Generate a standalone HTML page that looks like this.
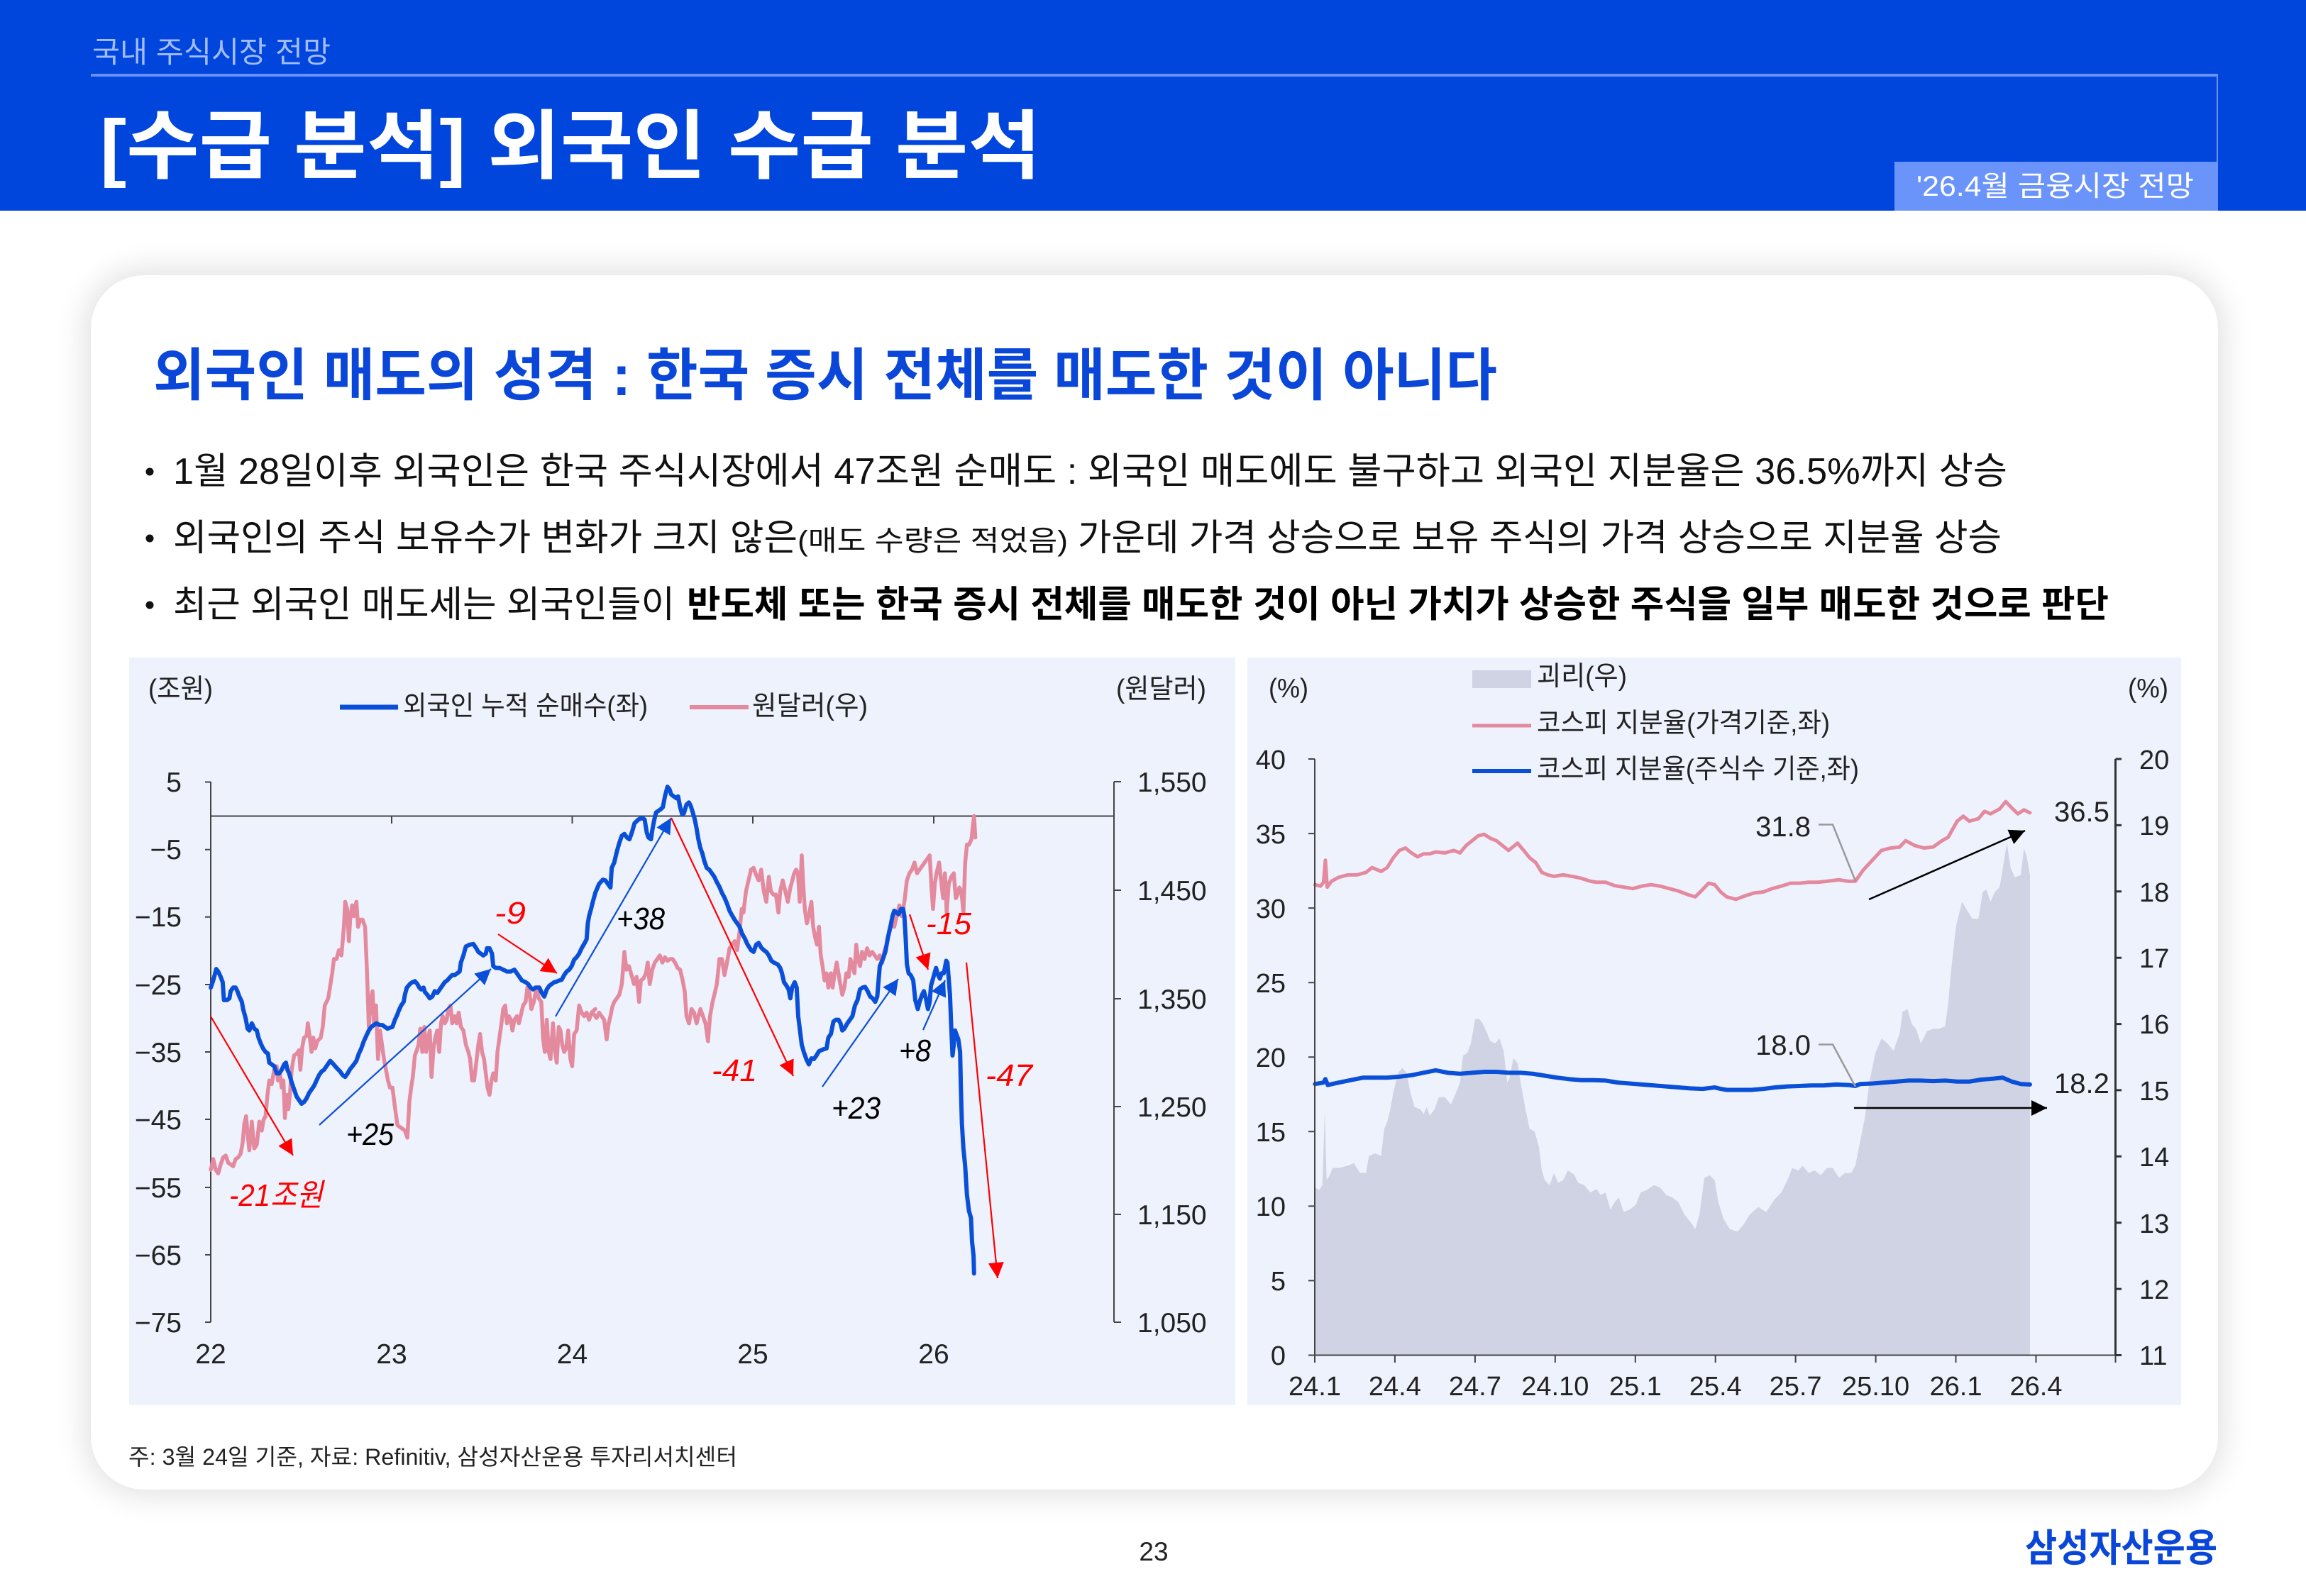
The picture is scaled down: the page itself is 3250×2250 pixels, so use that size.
<!DOCTYPE html>
<html><head><meta charset="utf-8">
<style>
html,body{margin:0;padding:0;width:3250px;height:2250px;overflow:hidden;background:#fff;}
.card{position:absolute;left:128px;top:388px;width:2998px;height:1712px;background:#fff;border-radius:75px;box-shadow:0 0 42px 8px rgba(0,0,0,0.12);}
svg{position:absolute;left:0;top:0;}
text{font-family:"Liberation Sans","Noto Sans CJK KR",sans-serif;}
</style></head><body>
<div class="card"></div>
<svg width="3250" height="2250" viewBox="0 0 3250 2250" xmlns="http://www.w3.org/2000/svg">
<defs>
<marker id="ar" viewBox="0 0 10 10" refX="10" refY="5" markerUnits="userSpaceOnUse" markerWidth="28" markerHeight="22" orient="auto"><path d="M0,0 L10,5 L0,10 z" fill="#ff0000"/></marker>
<marker id="ab" viewBox="0 0 10 10" refX="10" refY="5" markerUnits="userSpaceOnUse" markerWidth="28" markerHeight="22" orient="auto"><path d="M0,0 L10,5 L0,10 z" fill="#0a4fd8"/></marker>
<marker id="ak" viewBox="0 0 10 10" refX="10" refY="5" markerUnits="userSpaceOnUse" markerWidth="28" markerHeight="22" orient="auto"><path d="M0,0 L10,5 L0,10 z" fill="#000"/></marker>
</defs>

<!-- Header -->
<rect x="0" y="0" width="3250" height="297" fill="#0046dc"/>
<text x="130" y="88" font-size="42" fill="#a3bcff" textLength="336" lengthAdjust="spacingAndGlyphs">국내 주식시장 전망</text>
<rect x="128" y="104" width="2998" height="4" fill="#6a90fa"/>
<rect x="3124" y="108" width="2" height="120" fill="#6a90fa"/>
<text x="141" y="243" font-size="106" font-weight="700" fill="#fff" textLength="1326" lengthAdjust="spacingAndGlyphs">[수급 분석] 외국인 수급 분석</text>
<rect x="2670" y="228" width="456" height="69" fill="#6b94fb"/>
<text x="2701" y="276" font-size="40" fill="#fff" textLength="391" lengthAdjust="spacingAndGlyphs">'26.4월 금융시장 전망</text>

<!-- Card title and bullets -->
<text x="216" y="557" font-size="80" font-weight="700" fill="#0a47d8" textLength="1894" lengthAdjust="spacingAndGlyphs">외국인 매도의 성격 : 한국 증시 전체를 매도한 것이 아니다</text>
<circle cx="211" cy="665" r="5.5" fill="#111"/>
<circle cx="211" cy="759" r="5.5" fill="#111"/>
<circle cx="211" cy="853" r="5.5" fill="#111"/>
<text x="244" y="682" font-size="52" fill="#111" textLength="2585" lengthAdjust="spacingAndGlyphs">1월 28일이후 외국인은 한국 주식시장에서 47조원 순매도 : 외국인 매도에도 불구하고 외국인 지분율은 36.5%까지 상승</text>
<text x="244" y="776" font-size="52" fill="#111" textLength="880" lengthAdjust="spacingAndGlyphs">외국인의 주식 보유수가 변화가 크지 않은</text>
<text x="1124" y="776" font-size="40" fill="#111" textLength="381" lengthAdjust="spacingAndGlyphs">(매도 수량은 적었음)</text>
<text x="1519" y="776" font-size="52" fill="#111" textLength="1302" lengthAdjust="spacingAndGlyphs">가운데 가격 상승으로 보유 주식의 가격 상승으로 지분율 상승</text>
<text x="244" y="870" font-size="52" fill="#111" textLength="707" lengthAdjust="spacingAndGlyphs">최근 외국인 매도세는 외국인들이</text>
<text x="968" y="870" font-size="52" font-weight="700" fill="#000" textLength="2004" lengthAdjust="spacingAndGlyphs">반도체 또는 한국 증시 전체를 매도한 것이 아닌 가치가 상승한 주식을 일부 매도한 것으로 판단</text>

<!-- Chart panels -->
<rect x="182" y="927" width="1559" height="1054" fill="#eef2fd"/>
<rect x="1758" y="927" width="1316" height="1054" fill="#eef2fd"/>

<!-- ===== LEFT CHART ===== -->
<text x="209" y="984" font-size="38" fill="#222" textLength="91" lengthAdjust="spacingAndGlyphs">(조원)</text>
<text x="1573" y="984" font-size="38" fill="#222" textLength="127" lengthAdjust="spacingAndGlyphs">(원달러)</text>
<line x1="479" y1="997" x2="561" y2="997" stroke="#0a4fd8" stroke-width="7"/>
<text x="568" y="1008" font-size="38" fill="#222" textLength="345" lengthAdjust="spacingAndGlyphs">외국인 누적 순매수(좌)</text>
<line x1="972" y1="997" x2="1055" y2="997" stroke="#e48a9e" stroke-width="6"/>
<text x="1060" y="1008" font-size="38" fill="#222" textLength="163" lengthAdjust="spacingAndGlyphs">원달러(우)</text>

<g stroke="#444" stroke-width="2" fill="none">
<line x1="297" y1="1102" x2="297" y2="1864"/>
<line x1="1570" y1="1102" x2="1570" y2="1864"/>
<line x1="297" y1="1150.5" x2="1570" y2="1150.5"/>
<path d="M289,1102.5H297M289,1197.7H297M289,1292.8H297M289,1388H297M289,1483H297M289,1578H297M289,1674H297M289,1769H297M289,1864H297"/>
<path d="M1570,1102H1580M1570,1255H1580M1570,1408H1580M1570,1560H1580M1570,1712H1580M1570,1864H1580"/>
<path d="M552,1150V1161M806.5,1150V1161M1061,1150V1161M1316,1150V1161"/>
</g>
<g font-size="39" fill="#222" text-anchor="end">
<text x="256" y="1116">5</text>
<text x="256" y="1211">−5</text>
<text x="256" y="1306">−15</text>
<text x="256" y="1402">−25</text>
<text x="256" y="1497">−35</text>
<text x="256" y="1592">−45</text>
<text x="256" y="1688">−55</text>
<text x="256" y="1783">−65</text>
<text x="256" y="1878">−75</text>
</g>
<g font-size="39" fill="#222">
<text x="1603" y="1116">1,550</text>
<text x="1603" y="1269">1,450</text>
<text x="1603" y="1422">1,350</text>
<text x="1603" y="1574">1,250</text>
<text x="1603" y="1726">1,150</text>
<text x="1603" y="1878">1,050</text>
</g>
<g font-size="39" fill="#222" text-anchor="middle">
<text x="297" y="1922">22</text>
<text x="552" y="1922">23</text>
<text x="806.5" y="1922">24</text>
<text x="1061" y="1922">25</text>
<text x="1316" y="1922">26</text>
</g>

<!-- pink KRW/USD -->
<g fill="none" stroke="#e48a9e" stroke-width="5.5" stroke-linejoin="round" stroke-linecap="round">
<path vector-effect="non-scaling-stroke" transform="translate(290,1090) scale(0.3508,0.5038)" d="M20,1110 L30,1080 L40,1110 L50,1120 L60,1095 L70,1075 L80,1070 L90,1090 L100,1095 L110,1100 L120,1080 L130,1075 L140,1065 L148,1035 L155,980 L162,960 L168,1010 L175,1055 L185,975 L195,1050 L205,1040 L215,975 L225,1000 L232,970 L240,960 L248,900 L255,860 L265,870 L275,830 L285,820 L290,860 L298,840 L305,880 L312,860 L318,965 L325,900 L332,940 L338,900 L345,830 L355,790 L365,785 L375,775 L380,830 L388,765 L395,740 L405,735 L410,700 L418,740 L425,780 L432,740 L440,770 L448,750 L455,745 L462,740 L470,710 L478,650 L485,640 L492,630 L500,595 L508,560 L515,520 L525,520 L535,495 L545,510 L555,430 L560,360 L568,380 L575,470 L580,410 L588,370 L595,400 L605,360 L612,430 L620,410 L630,410 L640,430 L648,560 L655,710 L662,640 L670,610 L676,700 L684,650 L692,800 L700,720 L708,760 L716,800 L724,830 L732,860 L740,880 L750,880 L760,935 L770,985 L780,990 L790,995 L800,1000 L810,1020 L818,920 L825,880 L832,850 L840,790 L848,775 L855,760 L862,715 L870,780 L878,710 L885,780 L893,745 L900,720 L907,850 L915,770 L922,740 L930,720 L938,780 L945,700 L952,680 L960,700 L968,690 L975,660 L983,650 L990,700 L1000,680 L1008,700 L1016,670 L1025,710 L1035,720 L1045,760 L1055,780 L1062,800 L1070,860 L1078,860 L1085,820 L1095,760 L1102,730 L1110,780 L1118,800 L1125,840 L1132,880 L1140,900 L1148,860 L1155,840 L1165,860 L1172,780 L1180,740 L1188,700 L1195,660 L1203,650 L1210,700 L1218,680 L1225,690 L1232,720 L1240,690 L1250,680 L1258,700 L1265,680 L1275,650 L1285,640 L1292,600 L1300,610 L1308,660 L1318,640 L1328,605 L1338,630 L1348,640 L1355,740 L1362,780 L1370,690 L1378,780 L1385,800 L1395,700 L1402,770 L1410,810 L1418,710 L1425,720 L1432,760 L1440,780 L1448,770 L1456,720 L1465,800 L1472,820 L1480,730 L1490,720 L1500,650 L1510,670 L1520,680 L1530,670 L1540,690 L1550,670 L1565,660"/>
<path vector-effect="non-scaling-stroke" transform="translate(830,1090) scale(0.3571,0.5038)" d="M20,675 L30,685 L40,670 L50,680 L60,690 L70,745 L78,700 L85,680 L92,655 L100,640 L110,630 L120,620 L130,590 L140,500 L148,550 L158,540 L168,565 L178,590 L188,570 L198,640 L205,580 L215,575 L225,560 L232,530 L240,590 L250,550 L260,530 L270,520 L280,510 L290,530 L300,515 L310,525 L320,520 L330,520 L340,530 L350,545 L360,550 L370,580 L378,610 L385,680 L395,700 L405,660 L415,670 L425,700 L432,680 L440,660 L450,680 L460,700 L470,750 L478,680 L488,640 L495,620 L505,590 L515,520 L525,520 L535,565 L545,530 L555,490 L565,480 L575,470 L585,495 L595,440 L603,380 L610,390 L620,330 L630,300 L640,270 L650,265 L660,285 L670,300 L680,270 L690,330 L700,360 L710,290 L718,330 L728,340 L738,340 L748,390 L755,330 L765,300 L775,330 L785,360 L795,320 L803,300 L810,280 L818,270 L825,280 L832,360 L840,230 L845,300 L852,380 L860,420 L868,400 L878,360 L885,430 L893,460 L900,480 L908,430 L915,510 L922,540 L930,580 L938,560 L945,600 L955,560 L962,600 L970,560 L978,530 L985,560 L992,590 L1000,620 L1008,600 L1016,560 L1025,570 L1032,520 L1040,540 L1048,560 L1055,480 L1062,520 L1070,540 L1078,500 L1088,520 L1098,490 L1108,510 L1118,500 L1128,510 L1138,520 L1148,510 L1158,530 L1165,500 L1175,480 L1185,440 L1195,410 L1205,430 L1215,400 L1225,370 L1235,400 L1245,360 L1255,300 L1265,280 L1275,270 L1285,250 L1295,280 L1305,270 L1315,260 L1325,250 L1335,240 L1345,230 L1352,320 L1358,380 L1365,310 L1372,280 L1382,250 L1390,300 L1398,350 L1405,280 L1412,390 L1420,310 L1430,290 L1440,280 L1448,350 L1455,340 L1462,320 L1470,330 L1478,390 L1485,250 L1492,200 L1500,200 L1510,185 L1515,150 L1520,120 L1525,180"/>
</g>

<!-- blue cumulative net buy -->
<g fill="none" stroke="#0a4fd8" stroke-width="6" stroke-linejoin="round" stroke-linecap="round">
<path vector-effect="non-scaling-stroke" transform="translate(290,1090) scale(0.3508,0.5038)" d="M20,600 L30,580 L42,548 L50,555 L60,570 L68,585 L73,635 L85,635 L95,630 L100,610 L110,600 L120,600 L127,610 L135,625 L145,640 L150,660 L160,685 L168,715 L175,720 L185,700 L195,715 L205,720 L212,740 L220,755 L230,770 L240,780 L250,785 L255,810 L265,815 L275,820 L285,840 L295,840 L305,830 L315,815 L322,810 L328,830 L335,840 L345,865 L355,885 L365,905 L375,915 L385,925 L395,920 L405,910 L415,895 L425,885 L435,875 L445,860 L455,845 L465,835 L475,830 L490,815 L500,805 L510,812 L520,820 L530,828 L540,835 L550,845 L560,850 L570,840 L580,828 L595,815 L605,805 L615,785 L625,770 L635,750 L645,735 L655,720 L665,710 L675,705 L685,700 L700,705 L710,705 L720,710 L730,715 L740,712 L750,710 L755,700 L760,690 L770,675 L775,665 L785,650 L795,640 L800,620 L808,600 L820,590 L830,585 L840,582 L850,590 L858,600 L865,605 L875,600 L880,612 L890,620 L900,630 L910,625 L920,610 L930,615 L940,605 L950,595 L960,585 L970,580 L980,572 L990,565 L1000,565 L1010,560 L1020,555 L1025,530 L1035,510 L1045,485 L1060,480 L1075,478 L1085,488 L1095,500 L1105,505 L1115,510 L1125,505 L1130,490 L1140,490 L1150,505 L1155,540 L1165,545 L1180,545 L1195,550 L1210,555 L1225,555 L1240,550 L1250,560 L1260,570 L1270,580 L1285,585 L1295,590 L1305,600 L1315,605 L1325,600 L1340,600 L1350,615 L1360,625 L1370,605 L1380,595 L1390,590 L1400,585 L1410,583 L1420,580 L1430,578 L1440,565 L1450,555 L1460,550 L1470,540 L1480,522 L1490,515 L1500,505 L1510,490 L1520,478 L1530,465 L1535,420 L1540,400 L1548,380 L1555,360 L1565,335"/>
<path vector-effect="non-scaling-stroke" transform="translate(830,1090) scale(0.3571,0.5038)" d="M25,335 L40,310 L55,298 L65,300 L75,310 L85,320 L90,265 L100,250 L110,220 L120,195 L130,175 L140,170 L150,180 L160,185 L170,165 L180,140 L195,130 L210,125 L220,130 L228,165 L235,180 L245,185 L250,160 L258,130 L265,110 L275,105 L285,100 L292,95 L300,65 L310,38 L318,45 L325,60 L335,65 L345,70 L352,65 L360,95 L368,115 L375,112 L380,100 L385,88 L395,82 L402,92 L410,110 L418,130 L425,155 L432,185 L440,210 L448,225 L455,245 L465,265 L475,270 L485,280 L495,290 L505,305 L515,318 L525,335 L535,348 L545,365 L555,385 L565,398 L575,410 L585,420 L595,430 L605,450 L615,462 L625,478 L640,495 L650,500 L660,480 L670,475 L680,488 L690,495 L700,500 L710,510 L720,525 L730,530 L745,535 L755,545 L762,560 L770,585 L780,595 L788,605 L795,630 L802,600 L812,585 L820,600 L826,680 L833,720 L840,760 L848,780 L858,800 L868,815 L878,798 L888,800 L898,790 L908,778 L918,775 L928,772 L938,770 L945,740 L955,730 L965,695 L975,690 L985,690 L993,700 L1000,720 L1008,715 L1020,700 L1030,690 L1040,680 L1050,650 L1060,635 L1070,605 L1080,600 L1090,598 L1100,610 L1110,625 L1120,630 L1130,640 L1138,625 L1142,590 L1148,540 L1160,520 L1170,500 L1180,460 L1190,430 L1198,400 L1205,385 L1215,390 L1222,395 L1232,380 L1240,380 L1245,400 L1250,460 L1255,535 L1262,560 L1270,565 L1280,580 L1288,635 L1298,660 L1305,640 L1315,620 L1322,610 L1330,630 L1338,660 L1345,640 L1350,595 L1360,570 L1370,545 L1378,565 L1385,575 L1392,560 L1400,560 L1405,545 L1410,525 L1415,530 L1420,575 L1425,620 L1430,710 L1435,790 L1440,760 L1445,720 L1450,730 L1458,745 L1465,780 L1468,880 L1472,980 L1478,1050 L1485,1100 L1492,1180 L1500,1225 L1508,1245 L1512,1310 L1518,1350 L1520,1400"/>
</g>

<!-- left arrows -->
<g stroke-width="2.2" fill="none">
<line x1="297" y1="1433" x2="413" y2="1629" stroke="#ff0000" marker-end="url(#ar)"/>
<line x1="450" y1="1586" x2="692" y2="1366" stroke="#0a4fd8" marker-end="url(#ab)"/>
<line x1="702" y1="1317" x2="785" y2="1372" stroke="#ff0000" marker-end="url(#ar)"/>
<line x1="783" y1="1433" x2="946" y2="1153" stroke="#0a4fd8" marker-end="url(#ab)"/>
<line x1="946" y1="1153" x2="1118" y2="1517" stroke="#ff0000" marker-end="url(#ar)"/>
<line x1="1159" y1="1532" x2="1266" y2="1380" stroke="#0a4fd8" marker-end="url(#ab)"/>
<line x1="1282" y1="1289" x2="1308" y2="1367" stroke="#ff0000" marker-end="url(#ar)"/>
<line x1="1301" y1="1452" x2="1332" y2="1382" stroke="#0a4fd8" marker-end="url(#ab)"/>
<line x1="1362" y1="1357" x2="1406" y2="1802" stroke="#ff0000" marker-end="url(#ar)"/>
</g>
<g font-size="44" font-style="italic">
<text x="323" y="1700" fill="#ff0000" textLength="132" lengthAdjust="spacingAndGlyphs">-21조원</text>
<text x="488" y="1614" fill="#000" textLength="67" lengthAdjust="spacingAndGlyphs">+25</text>
<text x="697" y="1302" fill="#ff0000" textLength="44" lengthAdjust="spacingAndGlyphs">-9</text>
<text x="869" y="1310" fill="#000" textLength="68" lengthAdjust="spacingAndGlyphs">+38</text>
<text x="1003" y="1524" fill="#ff0000" textLength="64" lengthAdjust="spacingAndGlyphs">-41</text>
<text x="1172" y="1577" fill="#000" textLength="69" lengthAdjust="spacingAndGlyphs">+23</text>
<text x="1305" y="1317" fill="#ff0000" textLength="64" lengthAdjust="spacingAndGlyphs">-15</text>
<text x="1267" y="1496" fill="#000" textLength="45" lengthAdjust="spacingAndGlyphs">+8</text>
<text x="1389" y="1531" fill="#ff0000" textLength="66" lengthAdjust="spacingAndGlyphs">-47</text>
</g>

<!-- ===== RIGHT CHART ===== -->
<text x="1788" y="983" font-size="38" fill="#222" textLength="56" lengthAdjust="spacingAndGlyphs">(%)</text>
<text x="2999" y="983" font-size="38" fill="#222" textLength="57" lengthAdjust="spacingAndGlyphs">(%)</text>
<rect x="2075" y="945" width="83" height="25" fill="#d0d3e3"/>
<text x="2166" y="966" font-size="38" fill="#222" textLength="127" lengthAdjust="spacingAndGlyphs">괴리(우)</text>
<line x1="2075" y1="1023" x2="2158" y2="1023" stroke="#e48a9e" stroke-width="5"/>
<text x="2166" y="1032" font-size="38" fill="#222" textLength="413" lengthAdjust="spacingAndGlyphs">코스피 지분율(가격기준,좌)</text>
<line x1="2075" y1="1087" x2="2158" y2="1087" stroke="#0a4fd8" stroke-width="6"/>
<text x="2166" y="1097" font-size="38" fill="#222" textLength="454" lengthAdjust="spacingAndGlyphs">코스피 지분율(주식수 기준,좌)</text>

<!-- grey area -->
<path transform="translate(1750,920) scale(0.8546,0.6888)" fill="#d0d3e3" d="M121,1438 L121,1095 L128,1100 L133,1090 L137,940 L140,1080 L145,1070 L150,1055 L160,1055 L175,1050 L185,1045 L195,1065 L205,1065 L210,1030 L220,1025 L230,1030 L235,975 L240,960 L245,935 L250,900 L258,860 L265,850 L272,860 L278,900 L285,930 L295,935 L300,945 L305,930 L310,948 L318,935 L325,910 L335,910 L345,925 L352,905 L360,880 L365,825 L372,820 L378,800 L385,750 L392,750 L398,760 L405,780 L410,795 L418,800 L425,790 L432,815 L438,880 L442,870 L448,830 L455,840 L460,880 L468,935 L475,975 L483,980 L490,1010 L495,1060 L500,1080 L508,1090 L515,1065 L522,1085 L530,1080 L538,1060 L548,1068 L555,1085 L565,1090 L575,1105 L585,1098 L592,1110 L600,1105 L608,1140 L615,1125 L622,1115 L630,1145 L640,1140 L650,1130 L658,1105 L668,1100 L680,1090 L690,1095 L700,1110 L710,1115 L720,1125 L730,1150 L740,1165 L748,1180 L755,1150 L763,1075 L772,1070 L780,1080 L786,1125 L795,1160 L805,1180 L818,1185 L828,1170 L838,1150 L852,1135 L865,1145 L878,1120 L890,1105 L900,1080 L908,1055 L918,1060 L925,1050 L935,1065 L945,1060 L955,1070 L965,1055 L975,1055 L985,1075 L995,1065 L1005,1065 L1012,1050 L1020,1000 L1028,950 L1035,880 L1045,820 L1055,790 L1065,800 L1075,815 L1085,780 L1090,735 L1098,730 L1105,760 L1112,770 L1120,800 L1130,775 L1140,770 L1150,770 L1160,765 L1165,720 L1170,650 L1178,560 L1188,510 L1195,525 L1205,545 L1215,545 L1222,490 L1228,485 L1235,510 L1242,490 L1250,480 L1258,420 L1262,390 L1268,440 L1275,460 L1285,455 L1290,400 L1295,420 L1300,455 L1300,1438 Z"/>

<g fill="none" stroke-linejoin="round" stroke-linecap="round">
<path vector-effect="non-scaling-stroke" stroke="#e48a9e" stroke-width="5" transform="translate(1750,920) scale(0.8546,0.6888)" d="M121,475 L130,478 L135,470 L138,425 L141,480 L148,468 L160,460 L175,455 L190,455 L205,450 L215,440 L230,448 L240,440 L250,420 L260,405 L270,400 L280,410 L290,418 L300,412 L310,412 L320,408 L335,410 L350,405 L360,410 L370,395 L380,385 L390,375 L400,372 L410,380 L420,385 L430,395 L440,405 L450,395 L455,390 L465,405 L475,420 L485,430 L495,450 L505,455 L515,458 L530,455 L545,458 L560,462 L575,468 L585,470 L600,470 L615,477 L630,480 L645,483 L660,478 L675,475 L690,478 L705,483 L720,488 L735,495 L748,500 L760,485 L770,472 L780,475 L790,490 L800,500 L815,505 L830,498 L845,492 L860,490 L875,483 L890,478 L905,472 L920,472 L935,470 L950,470 L965,468 L985,465 L1000,468 L1012,468 L1025,445 L1040,425 L1055,405 L1070,400 L1085,398 L1095,385 L1110,395 L1125,400 L1140,398 L1155,385 L1165,378 L1180,345 L1190,335 L1200,345 L1215,340 L1225,325 L1235,330 L1250,320 L1260,305 L1270,318 L1280,330 L1290,322 L1300,328"/>
<path vector-effect="non-scaling-stroke" stroke="#0a4fd8" stroke-width="6" transform="translate(1750,920) scale(0.8546,0.6888)" d="M121,883 L135,880 L138,873 L142,885 L160,880 L180,875 L200,870 L220,870 L240,870 L260,868 L280,865 L300,860 L320,855 L340,860 L360,862 L380,860 L400,858 L420,858 L440,860 L460,860 L480,862 L500,866 L520,870 L540,873 L560,875 L580,875 L600,876 L620,880 L640,882 L660,884 L680,886 L700,888 L720,890 L740,892 L760,893 L780,890 L790,893 L800,895 L820,895 L840,895 L860,893 L880,890 L900,888 L920,887 L940,886 L960,886 L980,884 L1000,885 L1012,887 L1020,883 L1040,882 L1060,880 L1080,878 L1100,876 L1120,876 L1140,877 L1160,876 L1180,878 L1200,878 L1220,874 L1240,872 L1255,870 L1270,878 L1285,883 L1300,884"/>
</g>

<!-- right axes -->
<g stroke="#444" stroke-width="2" fill="none">
<line x1="1853" y1="1070" x2="1853" y2="1910.5"/>
<line x1="1853" y1="1910.5" x2="2981.5" y2="1910.5"/>
<path d="M1844,1070H1853M1844,1175.1H1853M1844,1280.1H1853M1844,1385.2H1853M1844,1490.2H1853M1844,1595.3H1853M1844,1700.4H1853M1844,1805.4H1853M1844,1910.5H1853"/>
<path d="M1853,1910.5V1921M1965.9,1910.5V1921M2078.9,1910.5V1921M2191.8,1910.5V1921M2304.8,1910.5V1921M2417.7,1910.5V1921M2530.6,1910.5V1921M2643.6,1910.5V1921M2756.5,1910.5V1921M2869.5,1910.5V1921M2981.5,1910.5V1921"/>
</g>
<g stroke="#333" stroke-width="3" fill="none">
<line x1="2981.5" y1="1070" x2="2981.5" y2="1910.5"/>
<path d="M2981.5,1070H2990M2981.5,1163.4H2990M2981.5,1256.8H2990M2981.5,1350.2H2990M2981.5,1443.6H2990M2981.5,1536.9H2990M2981.5,1630.3H2990M2981.5,1723.7H2990M2981.5,1817.1H2990M2981.5,1910.5H2990"/>
</g>
<g font-size="38" fill="#222" text-anchor="end">
<text x="1812" y="1084">40</text>
<text x="1812" y="1189">35</text>
<text x="1812" y="1294">30</text>
<text x="1812" y="1399">25</text>
<text x="1812" y="1504">20</text>
<text x="1812" y="1609">15</text>
<text x="1812" y="1714">10</text>
<text x="1812" y="1819">5</text>
<text x="1812" y="1924">0</text>
</g>
<g font-size="38" fill="#222">
<text x="3015" y="1084">20</text>
<text x="3015" y="1177">19</text>
<text x="3015" y="1271">18</text>
<text x="3015" y="1364">17</text>
<text x="3015" y="1457">16</text>
<text x="3015" y="1551">15</text>
<text x="3015" y="1644">14</text>
<text x="3015" y="1738">13</text>
<text x="3015" y="1831">12</text>
<text x="3015" y="1924">11</text>
</g>
<g font-size="38" fill="#222" text-anchor="middle">
<text x="1853" y="1967">24.1</text>
<text x="1965.9" y="1967">24.4</text>
<text x="2078.9" y="1967">24.7</text>
<text x="2191.8" y="1967">24.10</text>
<text x="2304.8" y="1967">25.1</text>
<text x="2417.7" y="1967">25.4</text>
<text x="2530.6" y="1967">25.7</text>
<text x="2643.6" y="1967">25.10</text>
<text x="2756.5" y="1967">26.1</text>
<text x="2869.5" y="1967">26.4</text>
</g>

<!-- right annotations -->
<polyline points="2563,1162.5 2583,1162.5 2615,1242" fill="none" stroke="#999" stroke-width="2.5"/>
<polyline points="2563,1472.5 2583,1472.5 2615,1532" fill="none" stroke="#999" stroke-width="2.5"/>
<g font-size="40" fill="#222">
<text x="2552" y="1179" text-anchor="end">31.8</text>
<text x="2895" y="1158">36.5</text>
<text x="2552" y="1487" text-anchor="end">18.0</text>
<text x="2895" y="1541">18.2</text>
</g>
<line x1="2634" y1="1268" x2="2854" y2="1171" stroke="#000" stroke-width="2.5" marker-end="url(#ak)"/>
<line x1="2613" y1="1562" x2="2885" y2="1562" stroke="#000" stroke-width="2.5" marker-end="url(#ak)"/>

<!-- footnote and footer -->
<text x="181" y="2065" font-size="32" fill="#222" textLength="858" lengthAdjust="spacingAndGlyphs">주: 3월 24일 기준, 자료: Refinitiv, 삼성자산운용 투자리서치센터</text>
<text x="1626" y="2200" font-size="37" fill="#222" text-anchor="middle">23</text>
<text x="2854" y="2201" font-size="54" font-weight="700" fill="#0a47d8" textLength="271" lengthAdjust="spacingAndGlyphs">삼성자산운용</text>
</svg>
</body></html>
